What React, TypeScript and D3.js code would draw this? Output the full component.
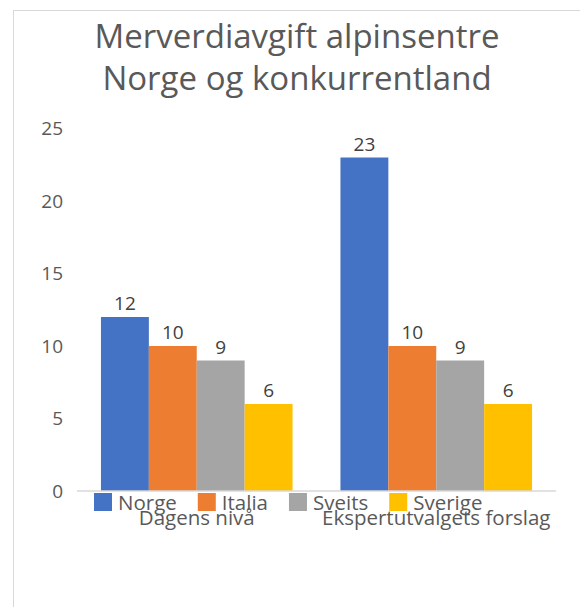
import React, { useEffect, useRef } from 'react';
import * as d3 from 'd3';

const categories = ['Dagens nivå', 'Ekspertutvalgets forslag'];
const seriesNames = ['Norge', 'Italia', 'Sveits', 'Sverige'];
const seriesColors = ['#4472C4', '#ED7D31', '#A5A5A5', '#FFC000'];
const dagensNiva = [12, 10, 9, 6];
const ekspertForslag = [23, 10, 9, 6];
const yTicks = [0, 5, 10, 15, 20, 25];
const titleLines = ['Merverdiavgift alpinsentre', 'Norge og konkurrentland'];

const W = 580;
const H = 607;
const FONT = '"Open Sans", "Noto Sans", sans-serif';
const TEXT = '#595959';

export default function App() {
  const ref = useRef<SVGSVGElement>(null);

  useEffect(() => {
    document.body.style.margin = '0';
    const svg = d3.select(ref.current);
    svg.selectAll('*').remove();

    // chart frame (cropped at right and bottom)
    svg
      .append('rect')
      .attr('x', 13.5)
      .attr('y', 10.5)
      .attr('width', W)
      .attr('height', H)
      .attr('fill', '#fff')
      .attr('stroke', '#d9d9d9');

    // title
    svg
      .append('g')
      .selectAll('text')
      .data(titleLines)
      .enter()
      .append('text')
      .attr('x', 297)
      .attr('y', (d, i) => 48 + i * 42)
      .attr('text-anchor', 'middle')
      .attr('font-size', 33)
      .attr('fill', TEXT)
      .text((d) => d);

    const x0 = d3.scaleBand().domain(categories).range([77, 556]).paddingInner(0.2).paddingOuter(0.1);
    const x1 = d3.scaleBand().domain(seriesNames).range([0, x0.bandwidth()]);
    const y = d3.scaleLinear().domain([0, 25]).range([491, 128.5]);

    const rows = [dagensNiva, ekspertForslag];

    // y tick labels
    svg
      .append('g')
      .selectAll('text')
      .data(yTicks)
      .enter()
      .append('text')
      .attr('x', 63)
      .attr('y', (d) => y(d))
      .attr('dy', '0.36em')
      .attr('text-anchor', 'end')
      .attr('font-size', 19)
      .attr('fill', TEXT)
      .text((d) => d);

    // bars + value labels
    const groups = svg
      .append('g')
      .selectAll('g')
      .data(categories)
      .enter()
      .append('g')
      .attr('transform', (d) => `translate(${x0(d)},0)`);

    groups
      .selectAll('rect')
      .data((d, i) => rows[i].map((v, j) => ({ v, name: seriesNames[j], color: seriesColors[j] })))
      .enter()
      .append('rect')
      .attr('x', (d) => x1(d.name))
      .attr('y', (d) => y(d.v))
      .attr('width', x1.bandwidth())
      .attr('height', (d) => y(0) - y(d.v))
      .attr('fill', (d) => d.color);

    groups
      .selectAll('text')
      .data((d, i) => rows[i].map((v, j) => ({ v, name: seriesNames[j] })))
      .enter()
      .append('text')
      .attr('x', (d) => x1(d.name) + x1.bandwidth() / 2)
      .attr('y', (d) => y(d.v) - 7)
      .attr('text-anchor', 'middle')
      .attr('font-size', 19)
      .attr('fill', '#404040')
      .text((d) => d.v);

    // baseline
    svg
      .append('line')
      .attr('x1', 77)
      .attr('x2', 556)
      .attr('y1', y(0))
      .attr('y2', y(0))
      .attr('stroke', '#d9d9d9')
      .attr('stroke-width', 1.5);

    // category labels
    svg
      .append('g')
      .selectAll('text')
      .data(categories)
      .enter()
      .append('text')
      .attr('x', (d) => x0(d) + x0.bandwidth() / 2)
      .attr('y', 525)
      .attr('text-anchor', 'middle')
      .attr('font-size', 20.5)
      .attr('fill', TEXT)
      .text((d) => d);

    // legend (overlaps the category labels, like the source)
    const legend = svg.append('g');
    let lx = 94;
    seriesNames.forEach((name, i) => {
      legend
        .append('rect')
        .attr('x', lx)
        .attr('y', 493)
        .attr('width', 18)
        .attr('height', 18)
        .attr('fill', seriesColors[i]);
      const t = legend
        .append('text')
        .attr('x', lx + 24)
        .attr('y', 510)
        .attr('font-size', 20.5)
        .attr('fill', TEXT)
        .text(name);
      const tw = (t.node() as SVGTextElement).getComputedTextLength();
      lx = lx + 24 + tw + 21;
    });
  }, []);

  return (
    <svg ref={ref} width={W} height={H} style={{ display: 'block', fontFamily: FONT }} />
  );
}
